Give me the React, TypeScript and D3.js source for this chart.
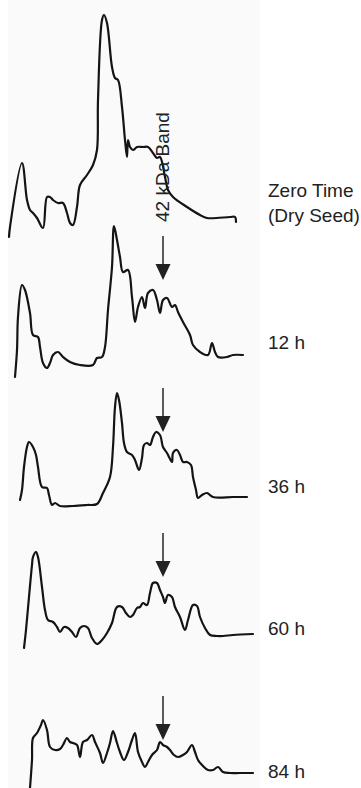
import React, { useEffect, useRef } from "react";
import * as d3 from "d3";

// densitometer scans: [migration distance, optical density]
const zeroTime: [number, number][] = [
  [9, 3], [10, 13], [22, 77], [27, 40], [30, 30], [33, 27], [37, 22], [43, 12], [47, 43], [50, 43],
  [53, 40], [58, 37], [63, 37], [67, 27], [70, 17], [73, 15], [77, 33], [80, 55], [87, 65], [93, 75],
  [97, 90], [98, 140], [102, 220], [104, 225], [107, 217], [112, 173], [115, 162], [118, 160], [122, 133],
  [125, 100], [127, 83], [128, 100], [130, 93], [133, 90], [137, 93], [143, 93], [148, 93], [153, 87],
  [157, 82], [160, 83], [165, 63], [168, 50], [173, 43], [187, 33], [200, 25], [207, 22], [230, 23],
  [235, 23], [236, 18],
];
const h12: [number, number][] = [
  [15, 3], [17, 30], [18, 63], [22, 95], [25, 90], [30, 67], [33, 45], [38, 43], [40, 33], [43, 17],
  [47, 12], [50, 17], [53, 25], [58, 28], [63, 23], [70, 18], [80, 15], [93, 15], [97, 22], [102, 23],
  [105, 33], [108, 70], [112, 113], [114, 154], [117, 140], [120, 123], [123, 108], [128, 110], [132, 83],
  [135, 58], [138, 73], [142, 83], [145, 72], [148, 87], [153, 90], [157, 80], [160, 67], [163, 80],
  [167, 82], [172, 73], [175, 75], [178, 68], [183, 58], [190, 45], [193, 35], [200, 28], [208, 25],
  [212, 37], [215, 28], [218, 23], [227, 23], [233, 25], [243, 25],
];
const h36: [number, number][] = [
  [20, 10], [22, 20], [24, 43], [27, 63], [29, 68], [33, 63], [36, 55], [38, 43], [42, 23], [47, 22],
  [49, 15], [52, 5], [55, 7], [60, 4], [73, 4], [87, 5], [97, 6], [103, 17], [110, 33], [113, 63],
  [115, 103], [117, 117], [119, 110], [122, 87], [124, 67], [127, 58], [132, 55], [135, 50], [139, 40],
  [142, 52], [144, 65], [147, 67], [150, 65], [153, 73], [156, 78], [160, 75], [163, 63], [167, 57],
  [172, 48], [173, 57], [177, 60], [180, 55], [183, 48], [187, 48], [191, 45], [193, 33], [196, 20],
  [198, 12], [202, 15], [207, 17], [213, 13], [233, 13], [247, 13],
];
const h60: [number, number][] = [
  [24, 2], [26, 20], [29, 53], [32, 85], [33, 93], [36, 98], [38, 93], [42, 63], [45, 40], [48, 30],
  [53, 28], [57, 23], [60, 18], [64, 23], [68, 22], [72, 18], [76, 13], [80, 22], [84, 24], [88, 22],
  [92, 12], [97, 6], [102, 10], [107, 17], [112, 27], [117, 43], [122, 43], [126, 37], [130, 33],
  [133, 35], [137, 42], [140, 43], [143, 47], [147, 45], [150, 57], [153, 67], [157, 67], [160, 60],
  [163, 53], [165, 47], [168, 55], [172, 53], [175, 43], [180, 33], [185, 20], [188, 30], [193, 45],
  [197, 44], [200, 33], [205, 22], [210, 15], [217, 14], [223, 14], [233, 15], [253, 16],
];
const h84: [number, number][] = [
  [30, 2], [32, 30], [33, 52], [37, 57], [41, 65], [43, 70], [47, 60], [50, 43], [55, 40], [60, 41],
  [63, 45], [67, 52], [70, 48], [73, 47], [77, 45], [80, 33], [83, 48], [87, 50], [92, 55], [95, 48],
  [100, 37], [103, 27], [107, 37], [110, 47], [113, 59], [117, 47], [120, 38], [124, 30], [128, 38],
  [132, 50], [135, 57], [138, 38], [142, 28], [145, 23], [148, 28], [152, 35], [157, 40], [160, 48],
  [163, 45], [167, 43], [170, 40], [174, 35], [178, 33], [183, 35], [187, 38], [192, 45], [195, 38],
  [198, 30], [203, 24], [208, 20], [213, 20], [218, 23], [223, 18], [230, 17], [240, 17], [253, 17],
];

const scans = [zeroTime, h12, h36, h60, h84];
const labels = [["Zero Time", "(Dry Seed)"], ["12 h"], ["36 h"], ["60 h"], ["84 h"]];
// density at which the 42 kDa arrow tip points, per scan
const arrowTips = [null, 100, 78, 73, 50];
const bandPosition = 163;
const bandLabel = "42 kDa Band";

const W = 361;
const H = 788;
const baselines = [240, 380, 510, 650, 790];
const labelBaselines = [197, 349, 493, 635, 778];

export default function App() {
  const ref = useRef<SVGSVGElement>(null);

  useEffect(() => {
    const svg = d3.select(ref.current);
    svg.selectAll("*").remove();

    svg.append("rect")
      .attr("x", 8).attr("y", 0)
      .attr("width", 252).attr("height", H)
      .attr("fill", "#fafafa");

    const x = d3.scaleLinear().domain([0, 260]).range([0, 260]);

    scans.forEach((data, i) => {
      const y = d3.scaleLinear().domain([0, 250]).range([baselines[i], baselines[i] - 250]);
      const line = d3.line<[number, number]>()
        .x(d => x(d[0]))
        .y(d => y(d[1]))
        .curve(d3.curveCatmullRom.alpha(0.5));

      svg.append("path")
        .attr("d", line(data))
        .attr("fill", "none")
        .attr("stroke", "#141414")
        .attr("stroke-width", 2.2)
        .attr("stroke-linejoin", "round")
        .attr("stroke-linecap", "round");

      const tip = arrowTips[i];
      if (tip != null) {
        const tx = x(bandPosition);
        const ty = y(tip);
        svg.append("line")
          .attr("x1", tx).attr("x2", tx)
          .attr("y1", ty - 44).attr("y2", ty - 14)
          .attr("stroke", "#333")
          .attr("stroke-width", 1.6);
        svg.append("path")
          .attr("d", `M${tx - 7.5},${ty - 16} L${tx + 7.5},${ty - 16} L${tx},${ty} Z`)
          .attr("fill", "#222");
      }

      const t = svg.append("text")
        .attr("x", 268)
        .attr("y", labelBaselines[i])
        .attr("font-family", "'Liberation Sans', Arial, sans-serif")
        .attr("font-size", 19)
        .attr("fill", "#222");
      labels[i].forEach((s, k) => {
        t.append("tspan").attr("x", 268).attr("dy", k === 0 ? 0 : 25).text(s);
      });
    });

    svg.append("text")
      .attr("transform", `translate(${x(bandPosition) + 6},222) rotate(-90)`)
      .attr("font-family", "'Liberation Sans', Arial, sans-serif")
      .attr("font-size", 19)
      .attr("fill", "#222")
      .text(bandLabel);
  }, []);

  return (
    <svg
      ref={ref}
      width={W}
      height={H}
      style={{ position: "absolute", left: 0, top: 0, background: "#fff" }}
    />
  );
}
